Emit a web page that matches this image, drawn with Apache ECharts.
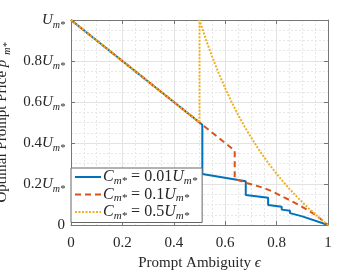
<!DOCTYPE html>
<html><head><meta charset="utf-8">
<script src="https://cdn.jsdelivr.net/npm/echarts@6/dist/echarts.min.js"></script>
<style>html,body{margin:0;padding:0;background:#fff}#c{width:363px;height:272px}</style>
</head><body><div id="c"></div>
<script>
// ---- data ----
const blueX = [0, 0.511, 0.511, 0.68, 0.68, 0.767, 0.767, 0.82, 0.82, 0.852, 0.852, 0.9, 1];
const blueY = [1, 0.489, 0.249, 0.213, 0.146, 0.133, 0.098, 0.089, 0.075, 0.07, 0.058, 0.042, 0];
const orangeX = [0, 0.637, 0.637, 0.68, 0.72, 0.754, 0.787, 0.82, 0.85, 0.884, 0.92, 0.95, 0.975, 1];
const orangeY = [1, 0.363, 0.225, 0.206, 0.192, 0.179, 0.162, 0.14, 0.122, 0.1, 0.074, 0.05, 0.026, 0];
const yellowX = [0, 0.5, 0.5, 0.525, 0.55, 0.575, 0.6, 0.625, 0.65, 0.675, 0.7, 0.725, 0.75, 0.775, 0.8, 0.825, 0.85, 0.875, 0.9, 0.925, 0.95, 0.975, 1];
const yellowY = [1, 0.5, 1.0, 0.905, 0.818, 0.739, 0.667, 0.6, 0.538, 0.481, 0.429, 0.379, 0.333, 0.29, 0.25, 0.212, 0.176, 0.143, 0.111, 0.081, 0.053, 0.026, 0];
const seriesNames = ['0.01', '0.1', '0.5'];
const xTicks = [0, 0.2, 0.4, 0.6, 0.8, 1];
const xTickLabels = ['0', '0.2', '0.4', '0.6', '0.8', '1'];
const yTicks = [0, 0.2, 0.4, 0.6, 0.8, 1];
const yTickCoef = ['0', '0.2', '0.4', '0.6', '0.8', ''];

const FONT = 'Liberation Serif';
const mk = (size, lh) => ({
  n: {fontFamily: FONT, fontSize: size, color: '#262626', lineHeight: lh},
  i: {fontFamily: FONT, fontSize: size, fontStyle: 'italic', color: '#262626', lineHeight: lh},
  s: {fontFamily: FONT, fontSize: Math.round(size * 0.66), fontStyle: 'italic', color: '#262626', verticalAlign: 'bottom', lineHeight: lh},
  u: {fontFamily: FONT, fontSize: Math.round(size * 0.66), fontStyle: 'italic', color: '#262626', verticalAlign: 'top', lineHeight: lh}
});
const rich = mk(15, 20);
const richLeg = mk(16, 19);
const pairs = (xs, ys) => xs.map((x, k) => [x, ys[k]]);
const colors = ['#0072BD', '#D95319', '#EDB120'];
const chart = echarts.init(document.getElementById('c'), null, {renderer: 'canvas'});
const axisCommon = {
  type: 'value', min: 0, max: 1, interval: 0.2,
  axisLine: {show: true, onZero: false, lineStyle: {color: '#777', width: 1}},
  axisTick: {show: true, inside: true, length: 4, lineStyle: {color: '#777'}},
  splitLine: {show: true, lineStyle: {color: '#e3e3e3', width: 1}},
  minorTick: {show: false, splitNumber: 4},
  minorSplitLine: {show: true, lineStyle: {color: '#e6e6e6', type: [2, 2], width: 1}}
};
chart.setOption({
  animation: false,
  grid: {left: 71, right: 35, top: 20, bottom: 47, containLabel: false, outerBoundsMode: 'none'},
  xAxis: [
    Object.assign({}, axisCommon, {
      position: 'bottom',
      name: '{n|Prompt Ambiguity }{i|ϵ}', nameLocation: 'middle', nameGap: 25,
      nameTextStyle: {rich: rich},
      axisLabel: {margin: 8, formatter: v => {const k = xTicks.findIndex(t => Math.abs(t - v) < 1e-6); return k >= 0 ? '{n|' + xTickLabels[k] + '}' : '';}, rich: rich}
    }),
    Object.assign({}, axisCommon, {position: 'top', axisLabel: {show: false}, splitLine: {show: false}, minorSplitLine: {show: false}})
  ],
  yAxis: [
    Object.assign({}, axisCommon, {
      position: 'left',
      name: '{n|Optimal Prompt Price }{i|p}{u|*}{s|m*}', nameLocation: 'middle', nameGap: 53, nameRotate: 90,
      nameTextStyle: {rich: rich},
      axisLabel: {margin: 6, formatter: v => {const k = yTicks.findIndex(t => Math.abs(t - v) < 1e-6); if (k < 0) return ''; if (k === 0) return '{n|0}'; return '{n|' + yTickCoef[k] + '}{i|U}{s|m*}';}, rich: rich}
    }),
    Object.assign({}, axisCommon, {position: 'right', axisLabel: {show: false}, splitLine: {show: false}, minorSplitLine: {show: false}})
  ],
  legend: {
    orient: 'vertical', left: 71, top: 168,
    backgroundColor: '#fff', borderColor: '#666', borderWidth: 1, borderRadius: 0,
    padding: [1, 5, 1, 3], itemGap: 0, itemWidth: 26, itemHeight: 19,
    itemStyle: {opacity: 0},
    data: seriesNames,
    formatter: name => '{i|C}{s|m*}{n| = ' + name + '}{i|U}{s|m*}',
    textStyle: {rich: richLeg, padding: [0, 0, 0, -3]}
  },
  series: [
    {name: seriesNames[0], type: 'line', data: pairs(blueX, blueY), showSymbol: false, symbol: 'none', lineStyle: {color: colors[0], width: 2}, itemStyle: {color: colors[0]}, z: 3},
    {name: seriesNames[1], type: 'line', data: pairs(orangeX, orangeY), showSymbol: false, symbol: 'none', lineStyle: {color: colors[1], width: 2, type: [6, 4]}, itemStyle: {color: colors[1]}, z: 4},
    {name: seriesNames[2], type: 'line', data: pairs(yellowX, yellowY), showSymbol: false, symbol: 'none', lineStyle: {color: colors[2], width: 2, type: [2, 1.5]}, itemStyle: {color: colors[2]}, z: 5}
  ]
});
</script></body></html>
